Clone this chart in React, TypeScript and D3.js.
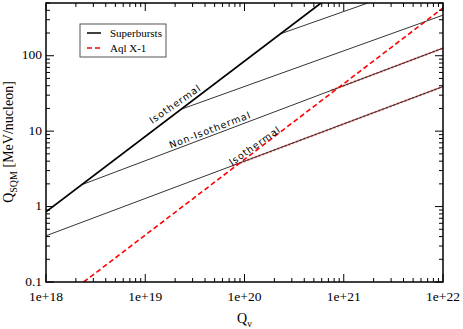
import React from 'react';
import * as d3 from 'd3';

// log-log plot of Q_SQM vs Q_nu
const superbursts: [number, number][] = [[1e18, 0.85], [5.9e20, 500]];
const isoLow: [number, number][] = [[1e18, 0.41], [1e22, 39]];
const nonIso: [number, number][] = [[2.3e18, 1.95], [1e22, 126]];
const branch19: [number, number][] = [[2.3e19, 19.5], [1e22, 345]];
const branch20: [number, number][] = [[2.3e20, 195], [1.75e21, 500]];

const aqlSteep: [number, number][] = [[2.4e18, 0.1], [1e22, 430]];
const aqlIso: [number, number][] = [[7.5e19, 3.45], [1e22, 39]];
const aqlNonIso: [number, number][] = [[7.5e20, 34.7], [1e22, 126]];

const xTickVals = [1e18, 1e19, 1e20, 1e21, 1e22];
const xTickLabels = ['1e+18', '1e+19', '1e+20', '1e+21', '1e+22'];
const yTickVals = [0.1, 1, 10, 100];
const yTickLabels = ['0.1', '1', '10', '100'];

const lineLabels = [
    {text: 'Isothermal', qv: 2.0e19, q: 22.9, angle: -35},
    {text: 'Non-Isothermal', qv: 4.5e19, q: 10.4, angle: -21},
    {text: 'Isothermal', qv: 1.27e20, q: 6.4, angle: -35},
];

const W = 463, H = 329;
const margin = {left: 46, right: 20, top: 3, bottom: 47};

export default function App() {
    const x = d3.scaleLog().domain([1e18, 1e22]).range([margin.left, W - margin.right]);
    const y = d3.scaleLog().domain([0.1, 500]).range([H - margin.bottom, margin.top]);
    const [x0, x1] = x.range();
    const [y0, y1] = y.range();

    const line = d3.line<[number, number]>()
        .x((d) => x(d[0]))
        .y((d) => y(d[1]));

    // minor ticks, 2..9 in each decade
    const xMinor: number[] = [];
    for (let e = 18; e < 22; e++) {
        for (let m = 2; m <= 9; m++) xMinor.push(m * Math.pow(10, e));
    }
    const yMinor: number[] = [];
    for (let e = -1; e <= 2; e++) {
        for (let m = 2; m <= 9; m++) {
            const v = m * Math.pow(10, e);
            if (v <= 500) yMinor.push(v);
        }
    }

    const serif = '"Liberation Serif", "Times New Roman", serif';
    const sans = '"DejaVu Sans", sans-serif';

    return (
        <svg width={W} height={H} style={{position: 'absolute', left: 0, top: 0, background: 'white'}}>
            <defs>
                <clipPath id="plotclip">
                    <rect x={x0} y={y1} width={x1 - x0} height={y0 - y1} />
                </clipPath>
            </defs>

            <g clipPath="url(#plotclip)" fill="none">
                {/* red overlays sit under the black lines they follow */}
                <path d={line(aqlIso) || ''} stroke="#ff3030" strokeWidth={2.2}
                    strokeDasharray="2.5,1.5" opacity={0.55} />
                <path d={line(aqlNonIso) || ''} stroke="#ff3030" strokeWidth={2.2}
                    strokeDasharray="2.5,1.5" opacity={0.55} />

                <path d={line(isoLow) || ''} stroke="black" strokeWidth={0.8} />
                <path d={line(nonIso) || ''} stroke="black" strokeWidth={0.8} />
                <path d={line(branch19) || ''} stroke="black" strokeWidth={0.8} />
                <path d={line(branch20) || ''} stroke="black" strokeWidth={0.8} />
                <path d={line(superbursts) || ''} stroke="black" strokeWidth={1.7} />

                <path d={line(aqlSteep) || ''} stroke="#ff0000" strokeWidth={1.6}
                    strokeDasharray="5,3" />
            </g>

            {/* line labels */}
            {lineLabels.map((l, i) => (
                <text key={i}
                    transform={`translate(${x(l.qv)},${y(l.q)}) rotate(${l.angle})`}
                    textAnchor="middle" dy="0.35em"
                    fontFamily={sans} fontSize={9.5} letterSpacing={1}
                    fill="black">
                    {l.text}
                </text>
            ))}

            {/* ticks on all four sides, pointing inward */}
            <g stroke="black" strokeWidth={1}>
                {xTickVals.map((v, i) => (
                    <g key={'xt' + i}>
                        <line x1={x(v)} x2={x(v)} y1={y0} y2={y0 - 8} />
                        <line x1={x(v)} x2={x(v)} y1={y1} y2={y1 + 8} />
                    </g>
                ))}
                {xMinor.map((v, i) => (
                    <g key={'xm' + i}>
                        <line x1={x(v)} x2={x(v)} y1={y0} y2={y0 - 4} />
                        <line x1={x(v)} x2={x(v)} y1={y1} y2={y1 + 4} />
                    </g>
                ))}
                {yTickVals.map((v, i) => (
                    <g key={'yt' + i}>
                        <line x1={x0} x2={x0 + 8} y1={y(v)} y2={y(v)} />
                        <line x1={x1} x2={x1 - 8} y1={y(v)} y2={y(v)} />
                    </g>
                ))}
                {yMinor.map((v, i) => (
                    <g key={'ym' + i}>
                        <line x1={x0} x2={x0 + 4} y1={y(v)} y2={y(v)} />
                        <line x1={x1} x2={x1 - 4} y1={y(v)} y2={y(v)} />
                    </g>
                ))}
            </g>

            {/* frame */}
            <rect x={x0} y={y1} width={x1 - x0} height={y0 - y1}
                fill="none" stroke="black" strokeWidth={1.5} />

            {/* tick labels */}
            {xTickVals.map((v, i) => (
                <text key={'xl' + i} x={x(v)} y={301} textAnchor="middle"
                    fontFamily={serif} fontSize={13.5} fill="black">
                    {xTickLabels[i]}
                </text>
            ))}
            {yTickVals.map((v, i) => (
                <text key={'yl' + i} x={42} y={y(v) - 1} dy="0.35em" textAnchor="end"
                    fontFamily={serif} fontSize={13.5} fill="black">
                    {yTickLabels[i]}
                </text>
            ))}

            {/* axis titles */}
            <text x={237} y={323} fontFamily={serif} fontSize={14} fill="black">
                Q<tspan fontSize={10} dy={4}>ν</tspan>
            </text>
            <text transform={`translate(13,142) rotate(-90)`} textAnchor="middle"
                fontFamily={serif} fontSize={14} fill="black">
                Q<tspan fontSize={10} dy={4}>SQM</tspan><tspan dy={-4}> [MeV/nucleon]</tspan>
            </text>

            {/* legend */}
            <g>
                <rect x={80} y={24} width={86} height={33} fill="white"
                    stroke="#555" strokeWidth={1} />
                <line x1={87} x2={101} y1={33} y2={33} stroke="black" strokeWidth={1.5} />
                <line x1={87} x2={101} y1={48} y2={48} stroke="#ff0000" strokeWidth={1.5}
                    strokeDasharray="5,3" />
                <text x={110} y={36.5} fontFamily={serif} fontSize={11} fill="black">Superbursts</text>
                <text x={110} y={51.5} fontFamily={serif} fontSize={11} fill="black">Aql X-1</text>
            </g>
        </svg>
    );
}
